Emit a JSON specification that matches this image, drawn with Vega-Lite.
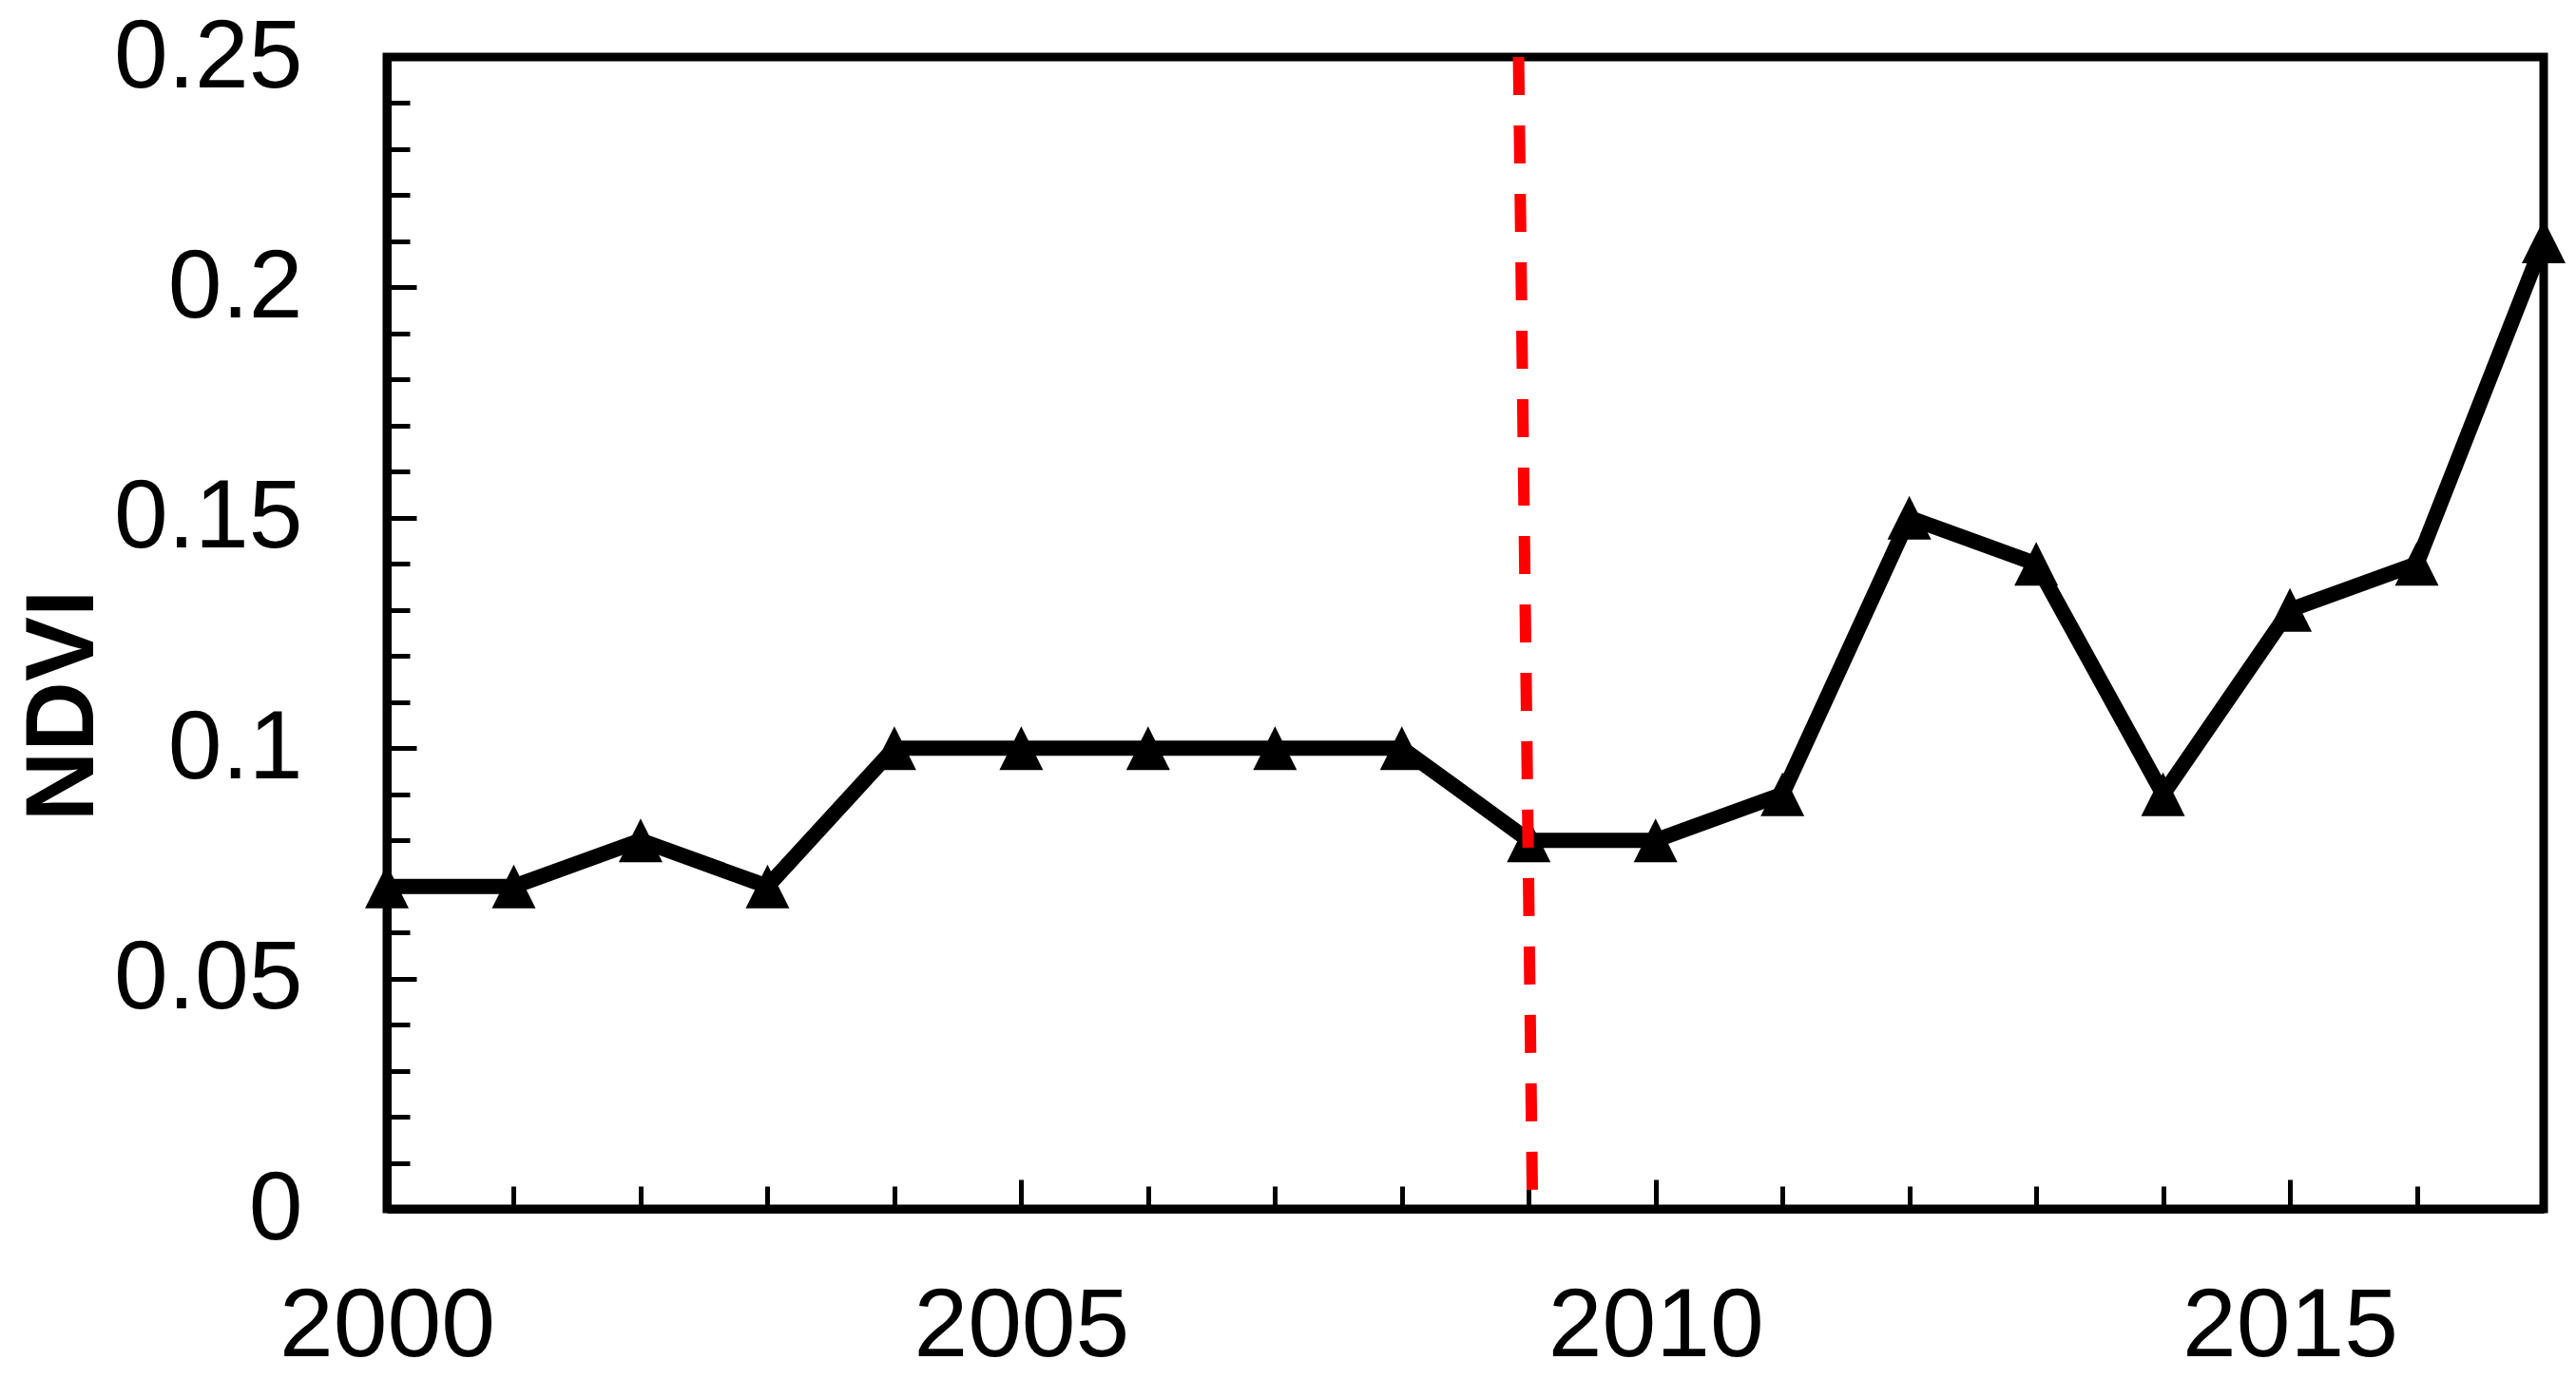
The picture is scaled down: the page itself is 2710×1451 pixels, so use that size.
{
  "$schema": "https://vega.github.io/schema/vega-lite/v6.json",
  "autosize": {"type": "none"},
  "padding": {"left": 407, "top": 60, "right": 34, "bottom": 179},
  "width": 2269,
  "height": 1212,
  "background": "white",
  "config": {
    "view": {"stroke": "black", "strokeWidth": 9},
    "font": "Liberation Sans",
    "axis": {
      "domainColor": "black",
      "domainWidth": 9,
      "tickColor": "black",
      "tickWidth": 5,
      "grid": false,
      "labelFont": "Liberation Sans",
      "labelFontSize": 102,
      "labelColor": "black",
      "labelLimit": 0,
      "titleFont": "Liberation Sans",
      "titleColor": "black"
    }
  },
  "datasets": {
    "ndvi": [
      {"year": 2000, "ndvi": 0.07},
      {"year": 2001, "ndvi": 0.07},
      {"year": 2002, "ndvi": 0.08},
      {"year": 2003, "ndvi": 0.07},
      {"year": 2004, "ndvi": 0.10},
      {"year": 2005, "ndvi": 0.10},
      {"year": 2006, "ndvi": 0.10},
      {"year": 2007, "ndvi": 0.10},
      {"year": 2008, "ndvi": 0.10},
      {"year": 2009, "ndvi": 0.08},
      {"year": 2010, "ndvi": 0.08},
      {"year": 2011, "ndvi": 0.09},
      {"year": 2012, "ndvi": 0.15},
      {"year": 2013, "ndvi": 0.14},
      {"year": 2014, "ndvi": 0.09},
      {"year": 2015, "ndvi": 0.13},
      {"year": 2016, "ndvi": 0.14},
      {"year": 2017, "ndvi": 0.21}
    ],
    "marker": [
      {"x1": 2008.92, "x2": 2009.03, "y1": 0.25, "y2": 0}
    ]
  },
  "layer": [
    {
      "data": {"name": "ndvi"},
      "mark": {"type": "line", "color": "black", "strokeWidth": 16, "strokeJoin": "miter"},
      "encoding": {
        "x": {
          "field": "year", "type": "quantitative",
          "scale": {"domain": [2000, 2017], "nice": false, "zero": false},
          "axis": {
            "title": null,
            "values": [2000,2001,2002,2003,2004,2005,2006,2007,2008,2009,2010,2011,2012,2013,2014,2015,2016,2017],
            "labelExpr": "datum.value % 5 == 0 ? '' + datum.value : ''",
            "tickSize": {"condition": {"test": "datum.value % 5 == 0", "value": -31}, "value": -24},
            "labelPadding": 104,
            "labelFlush": false,
            "labelOverlap": false
          }
        },
        "y": {
          "field": "ndvi", "type": "quantitative",
          "scale": {"domain": [0, 0.25], "nice": false},
          "axis": {
            "title": "NDVI",
            "titleFontSize": 102,
            "titleFontWeight": "bold",
            "titleAngle": -90,
            "titleBaseline": "alphabetic",
            "titleAlign": "center",
            "titleX": -310,
            "titleY": 682,
            "values": [0,0.01,0.02,0.03,0.04,0.05,0.06,0.07,0.08,0.09,0.1,0.11,0.12,0.13,0.14,0.15,0.16,0.17,0.18,0.19,0.2,0.21,0.22,0.23,0.24,0.25],
            "labelExpr": "round(datum.value * 100) % 5 == 0 ? format(datum.value, '~g') : ''",
            "tickSize": {"condition": {"test": "round(datum.value * 100) % 5 == 0", "value": -31}, "value": -24},
            "labelPadding": 120,
            "labelFlush": false,
            "labelOverlap": false
          }
        }
      }
    },
    {
      "data": {"name": "ndvi"},
      "mark": {"type": "point", "shape": "M0,-1L-1,1L1,1Z", "filled": true, "color": "black", "size": 2116, "opacity": 1},
      "encoding": {
        "x": {"field": "year", "type": "quantitative"},
        "y": {"field": "ndvi", "type": "quantitative"}
      }
    },
    {
      "data": {"name": "marker"},
      "mark": {"type": "rule", "color": "#ff0000", "strokeWidth": 12, "strokeDash": [40, 32]},
      "encoding": {
        "x": {"field": "x1", "type": "quantitative"},
        "x2": {"field": "x2"},
        "y": {"field": "y1", "type": "quantitative"},
        "y2": {"field": "y2"}
      }
    }
  ]
}
